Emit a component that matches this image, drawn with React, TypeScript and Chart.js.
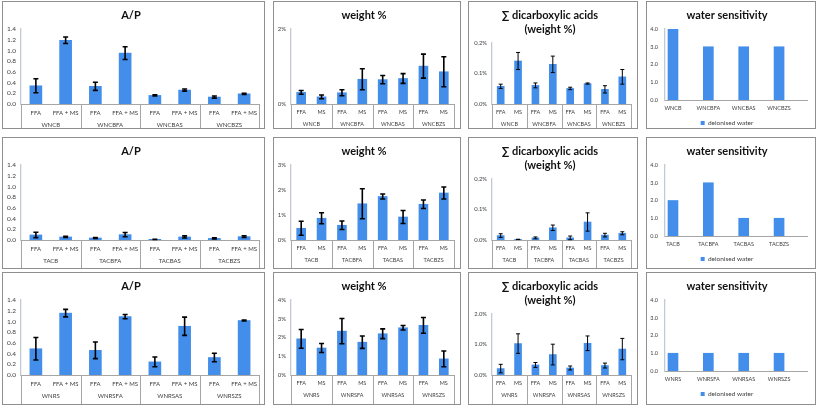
import React, { useEffect, useRef } from 'react';
import { Chart, registerables } from 'chart.js';

Chart.register(...registerables);

// ---------- categories ----------
const WNC_GROUPS = ['WNCB', 'WNCBFA', 'WNCBAS', 'WNCBZS'];
const TAC_GROUPS = ['TACB', 'TACBFA', 'TACBAS', 'TACBZS'];
const WNRS_GROUPS = ['WNRS', 'WNRSFA', 'WNRSAS', 'WNRSZS'];
const AP_SUBS = ['FFA', 'FFA + MS'];
const WT_SUBS = ['FFA', 'MS'];

// ---------- titles ----------
const TITLE_AP = 'A/P';
const TITLE_WT = 'weight %';
const TITLE_DCA = ['\u2211 dicarboxylic acids', '(weight %)'];
const TITLE_WATER = 'water sensitivity';
const WATER_LEGEND = 'deionised water';

// ---------- y tick values ----------
const AP_TICKS = [0, 0.2, 0.4, 0.6, 0.8, 1.0, 1.2, 1.4];
const WT_TICKS_1 = [0, 2];
const WT_TICKS_2 = [0, 1, 2, 3];
const WT_TICKS_3 = [0, 1, 2, 3, 4];
const DCA_TICKS_12 = [0, 0.1, 0.2];
const DCA_TICKS_3 = [0, 1, 2];
const WATER_TICKS = [0, 1, 2, 3, 4];

// ---------- row 1 : WNC ----------
const WNC_AP = [0.34, 1.19, 0.33, 0.95, 0.16, 0.26, 0.13, 0.19];
const WNC_AP_ERR = [0.13, 0.06, 0.075, 0.12, 0.01, 0.02, 0.02, 0.01];
const WNC_WT = [0.31, 0.19, 0.3, 0.66, 0.65, 0.68, 1.01, 0.86];
const WNC_WT_ERR = [0.05, 0.05, 0.08, 0.28, 0.11, 0.13, 0.32, 0.4];
const WNC_DCA = [0.058, 0.141, 0.061, 0.13, 0.051, 0.067, 0.048, 0.089];
const WNC_DCA_ERR = [0.007, 0.028, 0.008, 0.027, 0.004, 0.002, 0.012, 0.024];
const WNC_WATER = [4, 3, 3, 3];

// ---------- row 2 : TAC ----------
const TAC_AP = [0.094, 0.057, 0.038, 0.1, 0.012, 0.057, 0.03, 0.063];
const TAC_AP_ERR = [0.05, 0.01, 0.01, 0.04, 0.003, 0.02, 0.01, 0.015];
const TAC_WT = [0.47, 0.87, 0.59, 1.45, 1.74, 0.92, 1.43, 1.88];
const TAC_WT_ERR = [0.28, 0.22, 0.17, 0.6, 0.1, 0.26, 0.17, 0.24];
const TAC_DCA = [0.0145, 0.002, 0.007, 0.04, 0.007, 0.059, 0.016, 0.022];
const TAC_DCA_ERR = [0.006, 0.0005, 0.003, 0.009, 0.006, 0.03, 0.006, 0.005];
const TAC_WATER = [2, 3, 1, 1];

// ---------- row 3 : WNRS ----------
const WNRS_AP = [0.49, 1.155, 0.46, 1.09, 0.245, 0.91, 0.326, 1.017];
const WNRS_AP_ERR = [0.21, 0.07, 0.155, 0.04, 0.09, 0.17, 0.08, 0.01];
const WNRS_WT = [1.93, 1.44, 2.34, 1.75, 2.2, 2.52, 2.65, 0.86];
const WNRS_WT_ERR = [0.5, 0.24, 0.67, 0.33, 0.26, 0.12, 0.42, 0.42];
const WNRS_DCA = [0.21, 1.03, 0.33, 0.67, 0.23, 1.04, 0.31, 0.85];
const WNRS_DCA_ERR = [0.14, 0.32, 0.08, 0.34, 0.065, 0.24, 0.08, 0.35];
const WNRS_WATER = [1, 1, 1, 1];

// ---------- styling ----------
const BAR = 'rgb(66,142,234)';
const FONT = 'Lato, "Open Sans", sans-serif';
const TEXT = '#404040';
const Y_AXIS = '#c3cad3';
const X_AXIS = '#a6a6a6';
const PANEL_BORDER = '#8f8f8f';

const ROW_TOPS = [1, 137, 272];
const ROW_HEIGHTS = [128, 132, 133];
const COL_LEFTS = [2, 273, 468, 646];
const COL_WIDTHS = [263, 188, 170, 170];

const COL_STYLE = [
  { yW: 18, right: 256, top: 27, bottom: 102, bar: 12, yFont: 6.5, xFont: 6, gFont: 6, err: 1.6, cap: 2.5, yPad: 5 },
  { yW: 17, right: 180, top: 27, bottom: 102, bar: 9, yFont: 6, xFont: 5.5, gFont: 5.5, err: 1.6, cap: 2.5, yPad: 5 },
  { yW: 23, right: 162, top: 41, bottom: 102, bar: 7, yFont: 5.8, xFont: 5.5, gFont: 5.5, err: 1, cap: 2, yPad: 5 },
  { yW: 18, right: 160, top: 27, bottom: 98, bar: 10, yFont: 5.5, xFont: 5.5, gFont: 5.5, err: 0, cap: 0, yPad: 7 },
];

// x range of the water-sensitivity axis (category indexes)
const WATER_X_MIN = -0.226;
const WATER_X_MAX = 3.79;

type Spec =
  | { kind: 'grouped'; title: string | string[]; groups: string[]; subs: string[]; values: number[]; errors: number[]; ticks: number[]; digits: number; suffix: string }
  | { kind: 'water'; title: string; cats: string[]; values: number[]; ticks: number[] };

const PANELS: Spec[][] = [
  [
    { kind: 'grouped', title: TITLE_AP, groups: WNC_GROUPS, subs: AP_SUBS, values: WNC_AP, errors: WNC_AP_ERR, ticks: AP_TICKS, digits: 1, suffix: '' },
    { kind: 'grouped', title: TITLE_WT, groups: WNC_GROUPS, subs: WT_SUBS, values: WNC_WT, errors: WNC_WT_ERR, ticks: WT_TICKS_1, digits: 0, suffix: '%' },
    { kind: 'grouped', title: TITLE_DCA, groups: WNC_GROUPS, subs: WT_SUBS, values: WNC_DCA, errors: WNC_DCA_ERR, ticks: DCA_TICKS_12, digits: 1, suffix: '%' },
    { kind: 'water', title: TITLE_WATER, cats: WNC_GROUPS, values: WNC_WATER, ticks: WATER_TICKS },
  ],
  [
    { kind: 'grouped', title: TITLE_AP, groups: TAC_GROUPS, subs: AP_SUBS, values: TAC_AP, errors: TAC_AP_ERR, ticks: AP_TICKS, digits: 1, suffix: '' },
    { kind: 'grouped', title: TITLE_WT, groups: TAC_GROUPS, subs: WT_SUBS, values: TAC_WT, errors: TAC_WT_ERR, ticks: WT_TICKS_2, digits: 0, suffix: '%' },
    { kind: 'grouped', title: TITLE_DCA, groups: TAC_GROUPS, subs: WT_SUBS, values: TAC_DCA, errors: TAC_DCA_ERR, ticks: DCA_TICKS_12, digits: 1, suffix: '%' },
    { kind: 'water', title: TITLE_WATER, cats: TAC_GROUPS, values: TAC_WATER, ticks: WATER_TICKS },
  ],
  [
    { kind: 'grouped', title: TITLE_AP, groups: WNRS_GROUPS, subs: AP_SUBS, values: WNRS_AP, errors: WNRS_AP_ERR, ticks: AP_TICKS, digits: 1, suffix: '' },
    { kind: 'grouped', title: TITLE_WT, groups: WNRS_GROUPS, subs: WT_SUBS, values: WNRS_WT, errors: WNRS_WT_ERR, ticks: WT_TICKS_3, digits: 0, suffix: '%' },
    { kind: 'grouped', title: TITLE_DCA, groups: WNRS_GROUPS, subs: WT_SUBS, values: WNRS_DCA, errors: WNRS_DCA_ERR, ticks: DCA_TICKS_3, digits: 1, suffix: '%' },
    { kind: 'water', title: TITLE_WATER, cats: WNRS_GROUPS, values: WNRS_WATER, ticks: WATER_TICKS },
  ],
];

// ---------- plugins ----------
const errorBarPlugin = {
  id: 'errorBars',
  afterDatasetsDraw(chart: any, _args: any, opts: any) {
    if (!opts || !opts.width) return;
    const ctx = chart.ctx;
    const y = chart.scales.y;
    chart.data.datasets.forEach((ds: any, di: number) => {
      const errs = ds.errors;
      if (!errs) return;
      const meta = chart.getDatasetMeta(di);
      meta.data.forEach((bar: any, i: number) => {
        const v = ds.data[i];
        const e = errs[i];
        const yt = y.getPixelForValue(v + e);
        const yb = y.getPixelForValue(v - e);
        const x = bar.x;
        ctx.save();
        ctx.strokeStyle = '#000';
        ctx.lineWidth = opts.width;
        ctx.beginPath();
        ctx.moveTo(x, yt);
        ctx.lineTo(x, yb);
        ctx.moveTo(x - opts.cap, yt);
        ctx.lineTo(x + opts.cap, yt);
        ctx.moveTo(x - opts.cap, yb);
        ctx.lineTo(x + opts.cap, yb);
        ctx.stroke();
        ctx.restore();
      });
    });
  },
};

const separatorPlugin = {
  id: 'groupSeparators',
  afterDraw(chart: any) {
    const x2 = chart.scales.x2;
    if (!x2) return;
    const ctx = chart.ctx;
    const n = x2.getLabels().length;
    ctx.save();
    ctx.strokeStyle = X_AXIS;
    ctx.lineWidth = 1;
    for (let i = 0; i <= n; i++) {
      const px = Math.round(x2.getPixelForValue(i - 0.5)) + 0.5;
      ctx.beginPath();
      ctx.moveTo(px, chart.chartArea.bottom);
      ctx.lineTo(px, chart.height);
      ctx.stroke();
    }
    ctx.restore();
  },
};

function titleOptions(title: string | string[], chartTop: number) {
  const lines = Array.isArray(title) ? title.length : 1;
  const lh = 14;
  const padTop = 13 - lh / 2;
  return {
    display: true,
    text: title,
    color: '#111',
    font: { family: FONT, size: 11, weight: 'bold' as const, lineHeight: lh / 11 },
    padding: { top: padTop, bottom: chartTop - padTop - lines * lh },
  };
}

function yScale(ticks: number[], digits: number, suffix: string, cs: any) {
  return {
    type: 'linear',
    min: ticks[0],
    max: ticks[ticks.length - 1],
    afterBuildTicks: (s: any) => {
      s.ticks = ticks.map((v) => ({ value: v }));
    },
    ticks: {
      autoSkip: false,
      font: { family: FONT, size: cs.yFont },
      color: TEXT,
      padding: cs.yPad,
      callback: (v: any) => Number(v).toFixed(digits) + suffix,
    },
    grid: { display: false, drawTicks: false },
    border: { display: true, color: Y_AXIS, width: 1.3 },
    afterFit: (s: any) => {
      s.width = cs.yW;
    },
  };
}

function buildConfig(spec: Spec, col: number, W: number, H: number): any {
  const cs = COL_STYLE[col];
  if (spec.kind === 'grouped') {
    const labels = spec.groups.flatMap(() => spec.subs);
    return {
      type: 'bar',
      data: {
        labels,
        datasets: [
          {
            data: spec.values,
            errors: spec.errors,
            backgroundColor: BAR,
            barThickness: cs.bar,
            xAxisID: 'x',
            yAxisID: 'y',
          },
        ],
      },
      options: {
        responsive: false,
        animation: false,
        devicePixelRatio: 1,
        events: [],
        layout: { padding: { left: 0, right: W - cs.right, top: 0, bottom: 0 } },
        plugins: {
          legend: { display: false },
          tooltip: { enabled: false },
          title: titleOptions(spec.title, cs.top),
          errorBars: { width: cs.err, cap: cs.cap },
        },
        scales: {
          x: {
            type: 'category',
            offset: true,
            weight: 0,
            grid: { display: false, drawTicks: false },
            border: { display: true, color: X_AXIS, width: 1 },
            ticks: { autoSkip: false, maxRotation: 0, font: { family: FONT, size: cs.xFont }, color: TEXT, padding: 5.4 },
            afterFit: (s: any) => {
              s.height = 15;
            },
          },
          x2: {
            type: 'category',
            labels: spec.groups,
            offset: true,
            position: 'bottom',
            weight: 1,
            grid: { display: false, drawTicks: false },
            border: { display: false },
            ticks: { autoSkip: false, maxRotation: 0, font: { family: FONT, size: cs.gFont }, color: TEXT, padding: 2.4 },
            afterFit: (s: any) => {
              s.height = H - cs.bottom - 15;
            },
          },
          y: yScale(spec.ticks, spec.digits, spec.suffix, cs),
        },
      },
      plugins: [errorBarPlugin, separatorPlugin],
    };
  }
  const cats = spec.cats;
  const xH = 14;
  const legendFix = {
    id: 'legendFix',
    beforeUpdate(chart: any) {
      const lg = chart.legend;
      if (lg && !lg.__fixed) {
        const orig = lg.fit.bind(lg);
        lg.fit = function () {
          orig();
          this.height = H - cs.bottom - xH;
        };
        lg.__fixed = true;
      }
    },
  };
  return {
    type: 'bar',
    data: {
      datasets: [
        {
          label: WATER_LEGEND,
          data: spec.values.map((v, i) => ({ x: i, y: v })),
          backgroundColor: BAR,
          barThickness: cs.bar,
        },
      ],
    },
    options: {
      responsive: false,
      animation: false,
      devicePixelRatio: 1,
      events: [],
      layout: { padding: { left: 0, right: W - cs.right, top: 0, bottom: 0 } },
      plugins: {
        legend: {
          display: true,
          position: 'bottom',
          labels: { boxWidth: 4, boxHeight: 4, font: { family: FONT, size: 6.5 }, color: TEXT, padding: 5.75 },
        },
        tooltip: { enabled: false },
        title: titleOptions(spec.title, cs.top),
      },
      scales: {
        x: {
          type: 'linear',
          offset: false,
          bounds: 'data',
          min: WATER_X_MIN,
          max: WATER_X_MAX,
          afterDataLimits: (s: any) => {
            s.min = WATER_X_MIN;
            s.max = WATER_X_MAX;
          },
          afterBuildTicks: (s: any) => {
            s.ticks = cats.map((_, i) => ({ value: i }));
            s.min = WATER_X_MIN;
            s.max = WATER_X_MAX;
          },
          ticks: {
            autoSkip: false,
            maxRotation: 0,
            font: { family: FONT, size: cs.xFont },
            color: TEXT,
            padding: 5,
            callback: (v: any) => cats[v] ?? '',
          },
          grid: { display: false, drawTicks: false, offset: false },
          border: { display: true, color: X_AXIS, width: 1 },
          afterFit: (s: any) => {
            s.height = xH;
            s.paddingLeft = 0;
            s.paddingRight = 0;
          },
        },
        y: yScale(spec.ticks, 1, '', cs),
      },
    },
    plugins: [legendFix],
  };
}

function Panel({ spec, row, col }: { spec: Spec; row: number; col: number }) {
  const ref = useRef<HTMLCanvasElement>(null);
  const w = COL_WIDTHS[col];
  const h = ROW_HEIGHTS[row];
  const W = w - 2;
  const H = h - 2;
  useEffect(() => {
    const chart = new Chart(ref.current as HTMLCanvasElement, buildConfig(spec, col, W, H));
    return () => chart.destroy();
  }, []);
  return (
    <div
      style={{
        position: 'absolute',
        left: COL_LEFTS[col],
        top: ROW_TOPS[row],
        width: w,
        height: h,
        boxSizing: 'border-box',
        border: `1px solid ${PANEL_BORDER}`,
        background: '#fff',
      }}
    >
      <canvas ref={ref} width={W} height={H} style={{ display: 'block', width: W, height: H }} />
    </div>
  );
}

export default function App() {
  return (
    <div style={{ position: 'fixed', left: 0, top: 0, width: 817, height: 406, background: '#fff' }}>
      {PANELS.map((r, ri) => r.map((spec, ci) => <Panel key={`${ri}-${ci}`} spec={spec} row={ri} col={ci} />))}
    </div>
  );
}
